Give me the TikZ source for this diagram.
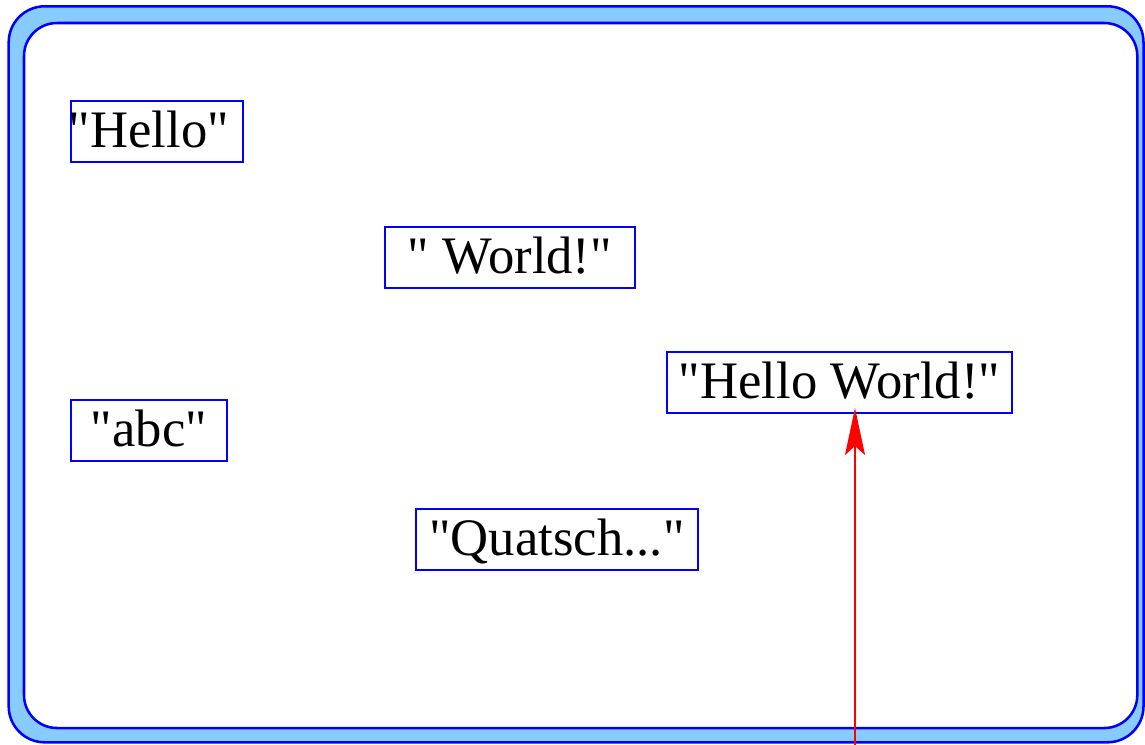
\documentclass[tikz,border=0pt]{standalone}
\usepackage{fontspec}
\setmainfont{Liberation Serif}[Ligatures=TeXOff]
\usetikzlibrary{arrows.meta}
\definecolor{frameblue}{HTML}{0000FF}
\definecolor{framefill}{HTML}{88CCFF}
\definecolor{arrowred}{HTML}{FF0000}
\begin{document}
\begin{tikzpicture}[x=0.75pt,y=-0.75pt,
  strbox/.style={draw=frameblue, line width=1.9pt, fill=white, rectangle,
    inner xsep=0pt, inner ysep=0pt, outer sep=0pt,
    minimum height={61*0.75pt},
    text height={46.5*0.75pt}, text depth={14.5*0.75pt},
    font=\fontsize{39.5}{46}\selectfont},
  frame/.style={draw=frameblue, line width=1.9pt},
  refarrow/.style={draw=arrowred, line width=1.9pt,
    -{Stealth[length={47*0.75pt}, width={20*0.75pt}, inset={9*0.75pt}]}}
]
\useasboundingbox (0,0) rectangle (1145,744);
% outer and inner frames
\path[frame, fill=framefill, rounded corners={36*0.75pt}] (8.7,6.3) rectangle (1143.5,742.3);
\path[frame, fill=white, rounded corners={33*0.75pt}] (24,23) rectangle (1137.3,728);
% string boxes
\node[strbox, minimum width={172*0.75pt}] (hello) at (157,131.5) {\makebox[129pt]{\kern-12pt"Hello"}};
\node[strbox, minimum width={250*0.75pt}] (world) at (510,257.5) {" World!"};
\node[strbox, minimum width={345*0.75pt}] (hw) at (839.5,382.5) {"Hello World!"};
\node[strbox, minimum width={156*0.75pt}] (abc) at (149,430.5) {"abc"};
\node[strbox, minimum width={282*0.75pt}] (quatsch) at (557,539.5) {"Quatsch..."};
% reference arrow
\coordinate (ref) at (855,746);
\draw[refarrow, shorten >={-3.75pt}] (ref) -- (ref |- hw.south);
\end{tikzpicture}
\end{document}
